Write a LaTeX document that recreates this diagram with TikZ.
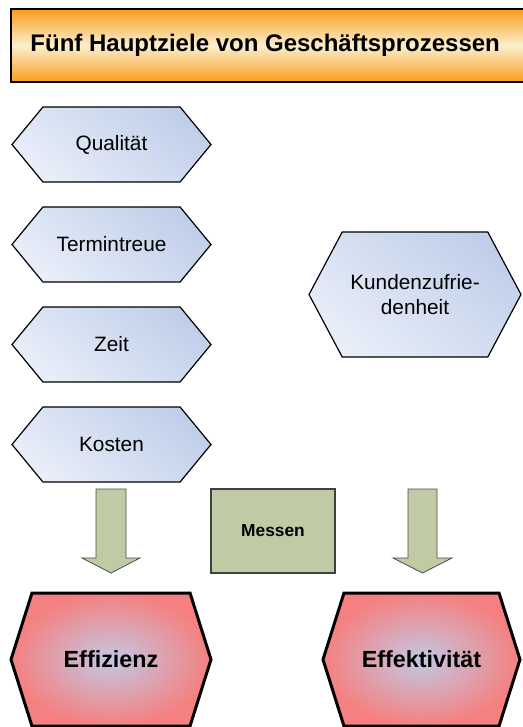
\documentclass[tikz,border=0pt]{standalone}
\usepackage{fontspec}
\setmainfont{Liberation Sans}
\usetikzlibrary{shapes.symbols, positioning}

\definecolor{hexlight}{RGB}{232,238,249}
\definecolor{hexdark}{RGB}{192,207,233}
\definecolor{goalred}{RGB}{245,128,128}
\definecolor{goalcore}{RGB}{194,200,228}
\definecolor{titleorange}{RGB}{250,158,28}
\definecolor{titlelight}{RGB}{251,238,206}
\definecolor{arrowgreen}{RGB}{192,202,164}

\begin{document}
\begin{tikzpicture}[x=0.75pt, y=-0.75pt, font=\fontsize{15.6}{19}\selectfont,
  aim/.style={signal, signal to=west and east, draw=black, line width=0.9pt,
    top color=hexdark, bottom color=hexlight, shading angle=-40, inner sep=0pt,
    minimum width=149.25pt, minimum height=56.25pt, signal pointer angle=101},
  goal/.style={signal, signal to=west and east, draw=black, line width=2.25pt,
    inner color=goalcore, outer color=goalred, inner sep=0pt,
    minimum height=99.75pt, signal pointer angle=145,
    font=\fontsize{17.5}{21}\selectfont\bfseries},
  blockarrow/.style={fill=arrowgreen, draw=gray!60!black, line width=0.6pt}]

\useasboundingbox (0,0) rectangle (523,727);

% --- Title ---
\node[draw=black, line width=1.1pt, top color=titleorange, bottom color=titleorange,
  middle color=titlelight, minimum width=389.25pt, minimum height=54.75pt,
  font=\fontsize{18}{21}\selectfont\bfseries] (title) at (270.5,45.5)
  {\hspace*{-8pt}Fünf Hauptziele von Geschäftsprozessen};

% --- Goals on the left ---
\node[aim] (quali) at (111.5,144.5) {Qualität};
\node[aim] (termin) at (111.5,244.5) {Termintreue};
\node[aim] (zeit) at (111.5,344.5) {Zeit};
\node[aim] (kosten) at (111.5,444.5) {Kosten};

% --- Goal on the right ---
\node[aim, align=center, minimum width=159pt, minimum height=93.75pt,
  signal pointer angle=124] (kunden) at (415,294.5) {Kundenzufrie-\\denheit};

% --- Block arrows and measuring ---
\filldraw[blockarrow] (96,489) -- (126,489) -- (126,558) -- (140,558) -- (111,573)
  -- (82,558) -- (96,558) -- cycle;
\filldraw[blockarrow] (408,489) -- (437,489) -- (437,558) -- (452,558) -- (422.5,573)
  -- (393,558) -- (408,558) -- cycle;
\node[fill=arrowgreen, draw=gray!50!black, line width=0.8pt, minimum width=93pt,
  minimum height=63pt, font=\fontsize{13}{15}\selectfont\bfseries] (messen)
  at (273,531) {Messen};

% --- Results ---
\node[goal, minimum width=150pt] (effizienz) at (111,659.5) {Effizienz};
\node[goal, minimum width=147.75pt] (effektiv) at (421.5,659.5) {Effektivität};

\end{tikzpicture}
\end{document}
